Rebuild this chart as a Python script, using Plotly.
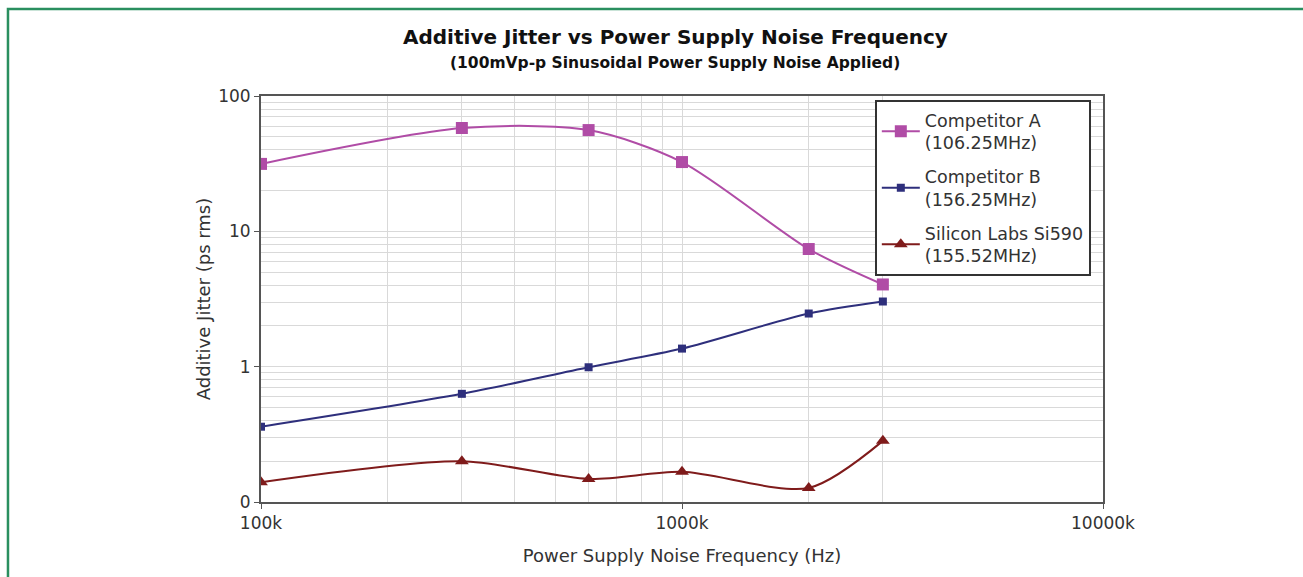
import plotly.graph_objects as go

# Noise frequency (Hz) and measured additive jitter (ps rms)
freq_hz = [100e3, 300e3, 600e3, 1000e3, 2000e3, 3000e3]
comp_a = [31.5, 58.0, 56.0, 32.5, 7.4, 4.05]
comp_b = [0.36, 0.63, 0.99, 1.36, 2.47, 3.03]
si590 = [0.14, 0.20, 0.148, 0.167, 0.127, 0.283]

series_names = [
    "Competitor A<br>(106.25MHz)",
    "Competitor B<br>(156.25MHz)",
    "Silicon Labs Si590<br>(155.52MHz)",
]

x_tick_vals = [1e5, 1e6, 1e7]
x_tick_text = ["100k", "1000k", "10000k"]
y_tick_vals = [0.1, 1, 10, 100]
y_tick_text = ["0", "1", "10", "100"]

x_minor = [m * 1e5 for m in range(2, 10)] + [2e6, 3e6]
y_minor = [m * d for d in (0.1, 1, 10) for m in range(2, 10)]

FONT = "DejaVu Sans"
TEXT = "#333333"
GRID = "#d9d9d9"

fig = go.Figure()

styles = [
    (comp_a, "#b04ca6", "square", 12),
    (comp_b, "#2e2f7c", "square", 8),
    (si590, "#7f1b1b", "triangle-up", 12),
]
for i, ((vals, color, symbol, msize), name) in enumerate(zip(styles, series_names)):
    fig.add_trace(go.Scatter(
        x=freq_hz, y=vals, name=name, mode="lines+markers",
        legendgroup=f"g{i}",
        line=dict(color=color, width=2, shape="spline", smoothing=0.8),
        marker=dict(color=color, symbol=symbol, size=msize),
    ))

fig.update_xaxes(
    type="log", range=[5, 7],
    tickvals=x_tick_vals, ticktext=x_tick_text,
    ticks="outside", ticklen=5, tickcolor="#555555",
    tickfont=dict(family=FONT, size=17, color=TEXT),
    showgrid=True, gridcolor=GRID, gridwidth=1,
    minor=dict(tickvals=x_minor, showgrid=True, gridcolor=GRID, gridwidth=1, ticks=""),
    showline=True, linecolor="#555555", linewidth=2, mirror=True,
    zeroline=False,
    title=dict(text="Power Supply Noise Frequency (Hz)",
               font=dict(family=FONT, size=18, color=TEXT), standoff=17),
)
fig.update_yaxes(
    type="log", range=[-1, 2],
    tickvals=y_tick_vals, ticktext=y_tick_text,
    ticks="outside", ticklen=5, tickcolor="#555555",
    tickfont=dict(family=FONT, size=17, color=TEXT),
    showgrid=True, gridcolor=GRID, gridwidth=1,
    minor=dict(tickvals=y_minor, showgrid=True, gridcolor=GRID, gridwidth=1, ticks=""),
    showline=True, linecolor="#555555", linewidth=2, mirror=True,
    zeroline=False,
    title=dict(text="Additive Jitter (ps rms)",
               font=dict(family=FONT, size=18, color=TEXT), standoff=3),
)

fig.update_layout(
    width=1303, height=577,
    margin=dict(l=261, r=200, t=96, b=75),
    paper_bgcolor="white", plot_bgcolor="white",
    showlegend=True,
    legend=dict(
        x=0.729, y=0.99, xanchor="left", yanchor="top",
        bgcolor="white", bordercolor="#333333", borderwidth=2,
        font=dict(family=FONT, size=17.5, color=TEXT),
        traceorder="grouped", tracegroupgap=8, itemwidth=38,
    ),
    annotations=[
        dict(text="<b>Additive Jitter vs Power Supply Noise Frequency</b>",
             xref="paper", yref="paper", x=0.4917, y=1.145,
             xanchor="center", yanchor="middle", showarrow=False,
             font=dict(family=FONT, size=20, color="#111111")),
        dict(text="<b>(100mVp-p Sinusoidal Power Supply Noise Applied)</b>",
             xref="paper", yref="paper", x=0.4917, y=1.082,
             xanchor="center", yanchor="middle", showarrow=False,
             font=dict(family=FONT, size=15.5, color="#111111")),
    ],
    shapes=[
        dict(type="path", xref="paper", yref="paper",
             path="M -0.3005 -0.2 L -0.3005 1.2143 L 1.3 1.2143",
             line=dict(color="#2a8f5f", width=2.5)),
    ],
)

fig.write_html("out.html")
